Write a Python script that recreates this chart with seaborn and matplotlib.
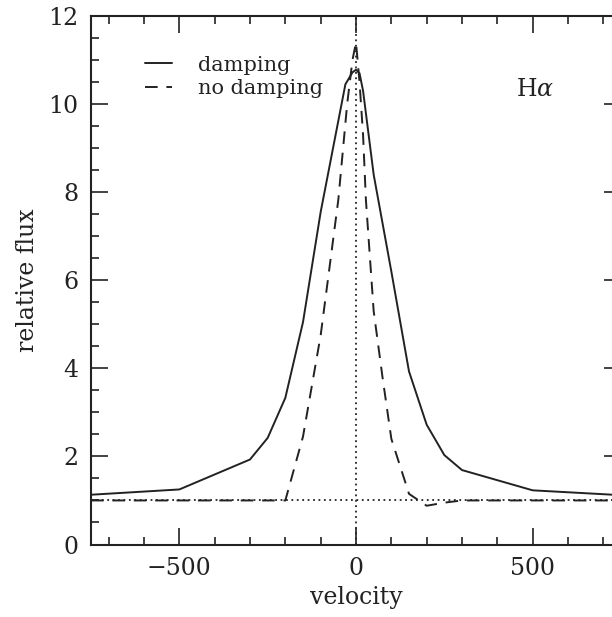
import matplotlib
matplotlib.use("Agg")
import matplotlib.pyplot as plt
from matplotlib.ticker import MultipleLocator
import seaborn as sns
import numpy as np

# ---- data ----
vel_damp = [-750, -500, -300, -250, -200, -150, -100, -30, -10, 0, 10, 20, 50, 100, 150, 200, 250, 300, 500, 750]
flux_damp = [1.13, 1.25, 1.93, 2.42, 3.33, 5.05, 7.55, 10.45, 10.72, 10.78, 10.7, 10.3, 8.4, 6.2, 3.93, 2.72, 2.03, 1.69, 1.23, 1.12]

vel_nodamp = [-750, -200, -150, -100, -50, -25, -10, 0, 10, 20, 28, 50, 75, 100, 150, 200, 250, 300, 750]
flux_nodamp = [1.0, 1.0, 2.45, 4.75, 7.83, 10.0, 11.0, 11.4, 10.5, 9.3, 7.83, 5.3, 3.8, 2.4, 1.15, 0.88, 0.95, 1.0, 1.0]

series_labels = ["damping", "no damping"]
line_label = r"H$\alpha$"
x_label = "velocity"
y_label = "relative flux"
x_limits = (-750, 750)
y_limits = (0, 12)
continuum = 1.0
line_center = 0.0

sns.set_theme(style="ticks")
plt.rcParams["font.family"] = ["DejaVu Serif"]
plt.rcParams["mathtext.fontset"] = "dejavuserif"

ink = "#222222"
fig = plt.figure(figsize=(6.12, 6.17), dpi=100)
ax = fig.add_axes([91 / 612, 72.5 / 617, 530 / 612, 528.5 / 617])

sns.lineplot(x=vel_damp, y=flux_damp, ax=ax, color=ink, lw=1.4, label=series_labels[0])
sns.lineplot(x=vel_nodamp, y=flux_nodamp, ax=ax, color=ink, lw=1.4,
             linestyle=(0, (6.5, 4.5)), label=series_labels[1])

ax.axhline(continuum, color=ink, lw=1.3, linestyle=(0, (1, 2)), zorder=1)
ax.axvline(line_center, color=ink, lw=1.3, linestyle=(0, (1, 2)), zorder=1)

ax.set_xlim(*x_limits)
ax.set_ylim(*y_limits)
ax.xaxis.set_major_locator(MultipleLocator(500))
ax.xaxis.set_minor_locator(MultipleLocator(100))
ax.yaxis.set_major_locator(MultipleLocator(2))
ax.yaxis.set_minor_locator(MultipleLocator(0.5))
ax.tick_params(which="both", direction="in", top=True, right=True, colors=ink,
               labelsize=17, width=1.2)
ax.tick_params(which="major", length=12, pad=9)
ax.tick_params(which="minor", length=5.5)
for s in ax.spines.values():
    s.set_linewidth(1.5)
    s.set_color(ink)

ax.set_xlabel(x_label, fontsize=17, color=ink, labelpad=4)
ax.set_ylabel(y_label, fontsize=17, color=ink, labelpad=7)

leg = ax.legend(loc="upper left", bbox_to_anchor=(0.102, 0.925), frameon=False,
                fontsize=15, handlelength=1.3, handletextpad=1.25,
                labelspacing=0.22, borderaxespad=0, borderpad=0)
for t in leg.get_texts():
    t.set_color(ink)

ax.text(0.802, 0.849, line_label, transform=ax.transAxes, fontsize=17,
        color=ink, ha="left", va="baseline")

fig.savefig("out.png", dpi=100)
